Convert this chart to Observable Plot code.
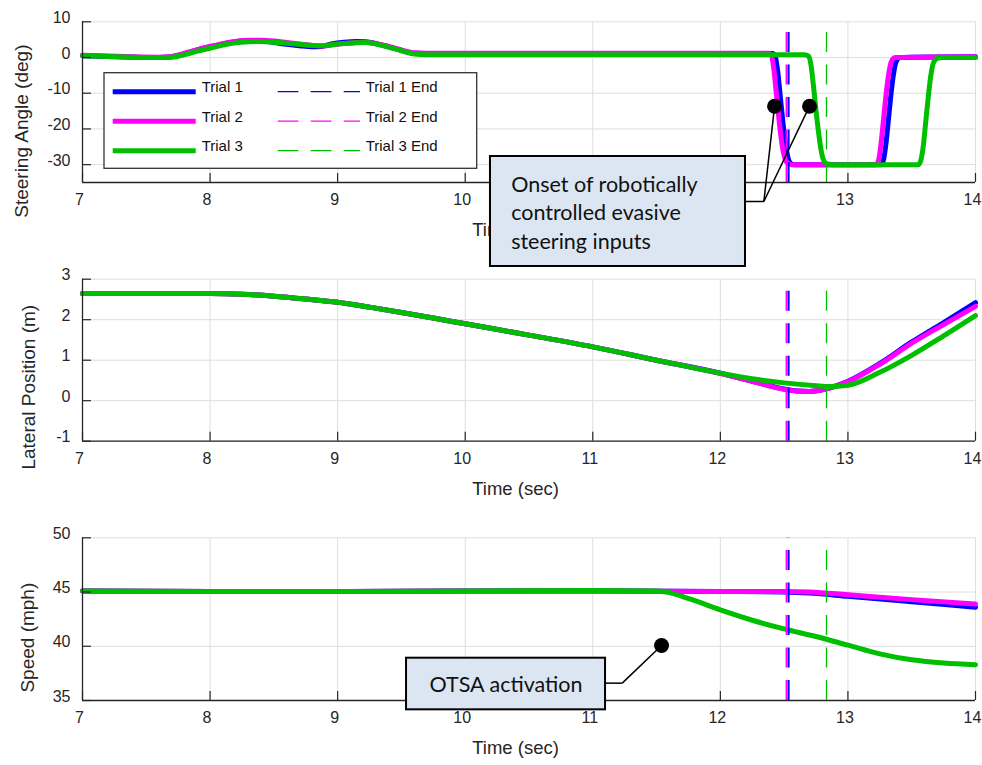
<!DOCTYPE html>
<html><head><meta charset="utf-8">
<script src="https://cdn.jsdelivr.net/npm/d3@7"></script>
<script src="https://cdn.jsdelivr.net/npm/@observablehq/plot@0.6"></script>
<style>
html,body{margin:0;padding:0;background:#fff;overflow:hidden}
#chart{position:relative;width:982px;height:765px}
#chart svg{position:absolute;left:0;top:0}
</style></head><body><div id="chart"></div>
<script>
// ---------- data ----------
const trials = ["Trial 1", "Trial 2", "Trial 3"];
const trialColors = ["#0000ff", "#ff00ff", "#00bf00"];
const endLabels = ["Trial 1 End", "Trial 2 End", "Trial 3 End"];
const endTimes = [12.535, 12.519, 12.832];
const timeTicks = [7, 8, 9, 10, 11, 12, 13, 14];
const steerTicks = [-30, -20, -10, 0, 10];
const latTicks = [-1, 0, 1, 2, 3];
const speedTicks = [35, 40, 45, 50];

// Steering angle (deg) vs time (sec)
const steerTrial1 = [[7,0.5],[7.2,0.3],[7.4,0.1],[7.6,0.0],[7.7,0.2],[7.8,1.1],[7.9,2.1],[8.0,3.0],[8.1,3.8],[8.2,4.4],[8.3,4.7],[8.4,4.6],[8.5,4.2],[8.6,3.7],[8.7,3.3],[8.8,3.0],[8.87,3.1],[8.95,3.8],[9.05,4.3],[9.15,4.5],[9.22,4.4],[9.3,3.9],[9.4,3.0],[9.5,2.0],[9.6,1.2],[9.7,1.1],[10,1.1],[11,1.1],[12,1.1],[12.41,1.1],[12.43,0.3],[12.45,-4],[12.47,-11],[12.49,-18],[12.51,-24],[12.53,-28],[12.55,-29.6],[12.58,-30],[13.26,-30],[13.28,-28.5],[13.30,-23.5],[13.32,-16.5],[13.34,-9.5],[13.36,-4],[13.38,-1],[13.41,0],[13.5,0.1],[14,0.2]];
const steerTrial2 = [[7,0.6],[7.2,0.4],[7.4,0.2],[7.6,0.1],[7.7,0.3],[7.8,1.2],[7.9,2.2],[8.0,3.1],[8.1,3.9],[8.2,4.5],[8.3,4.8],[8.4,4.8],[8.5,4.6],[8.6,4.2],[8.7,3.8],[8.8,3.4],[8.87,3.2],[8.95,3.5],[9.05,3.9],[9.15,4.2],[9.22,4.3],[9.3,3.9],[9.4,3.1],[9.5,2.1],[9.6,1.3],[9.7,1.2],[10,1.2],[11,1.2],[12,1.2],[12.38,1.2],[12.40,0.6],[12.42,-3.5],[12.44,-10.5],[12.46,-17.5],[12.48,-23.5],[12.50,-27.5],[12.52,-29.3],[12.56,-30],[13.22,-30],[13.24,-28.8],[13.26,-24],[13.28,-17],[13.30,-10],[13.32,-4.5],[13.34,-1.2],[13.37,0],[13.5,0.1],[14,0.2]];
const steerTrial3 = [[7,0.5],[7.2,0.3],[7.4,0.1],[7.6,0.0],[7.7,0.1],[7.8,0.8],[7.9,1.8],[8.0,2.6],[8.1,3.5],[8.2,4.1],[8.3,4.4],[8.4,4.5],[8.5,4.3],[8.6,4.0],[8.7,3.7],[8.8,3.4],[8.87,3.3],[8.95,3.6],[9.05,3.9],[9.15,4.15],[9.22,4.2],[9.3,3.8],[9.4,2.9],[9.5,1.9],[9.6,1.0],[9.7,0.8],[10,0.8],[11,0.75],[12,0.8],[12.66,0.8],[12.69,0.4],[12.71,-2],[12.73,-8],[12.75,-15],[12.77,-21],[12.79,-26],[12.81,-28.8],[12.84,-29.8],[12.9,-30],[13.55,-30],[13.57,-29],[13.59,-25],[13.61,-18],[13.63,-11],[13.65,-5],[13.67,-1.5],[13.7,-0.2],[13.75,0],[14,0]];

// Lateral position (m)
const latTrial1 = [[7,2.65],[7.5,2.65],[8,2.65],[8.25,2.63],[8.5,2.58],[8.75,2.51],[9,2.43],[9.25,2.31],[9.5,2.18],[9.75,2.04],[10,1.90],[10.5,1.62],[11,1.33],[11.5,1.0],[12,0.68],[12.25,0.48],[12.5,0.29],[12.6,0.24],[12.7,0.23],[12.8,0.27],[12.9,0.36],[13,0.48],[13.25,0.92],[13.5,1.45],[13.75,1.93],[14,2.42]];
const latTrial2 = [[7,2.65],[7.5,2.65],[8,2.65],[8.25,2.63],[8.5,2.58],[8.75,2.51],[9,2.43],[9.25,2.31],[9.5,2.18],[9.75,2.04],[10,1.90],[10.5,1.62],[11,1.33],[11.5,1.0],[12,0.67],[12.25,0.48],[12.5,0.28],[12.6,0.24],[12.7,0.23],[12.8,0.27],[12.9,0.35],[13,0.47],[13.25,0.90],[13.5,1.42],[13.75,1.88],[14,2.33]];
const latTrial3 = [[7,2.65],[7.5,2.65],[8,2.65],[8.25,2.63],[8.5,2.58],[8.75,2.51],[9,2.43],[9.25,2.31],[9.5,2.18],[9.75,2.04],[10,1.90],[10.5,1.62],[11,1.33],[11.5,1.0],[12,0.68],[12.25,0.54],[12.5,0.44],[12.75,0.37],[12.85,0.35],[13,0.38],[13.25,0.70],[13.5,1.12],[13.75,1.60],[14,2.10]];

// Speed (mph)
const speedTrial1 = [[7,45.1],[8,45.05],[9,45.05],[10,45.1],[11,45.1],[12,45.05],[12.5,45.0],[12.7,44.9],[13,44.6],[13.5,44.1],[14,43.6]];
const speedTrial2 = [[7,45.1],[8,45.05],[9,45.05],[10,45.1],[11,45.1],[12,45.05],[12.5,45.05],[12.7,45.0],[13,44.75],[13.5,44.3],[14,43.9]];
const speedTrial3 = [[7,45.1],[8,45.05],[9,45.05],[10,45.1],[11,45.15],[11.5,45.1],[11.6,44.95],[11.7,44.6],[11.8,44.2],[12,43.35],[12.25,42.4],[12.5,41.6],[12.75,40.9],[13,40.1],[13.25,39.3],[13.5,38.75],[13.75,38.45],[14,38.3]];

// Annotations (in data units of their panel)
const steerNote = {
  text: "Onset of robotically\ncontrolled evasive\nsteering inputs",
  x1: 10.198, x2: 12.197, y1: -27.72, y2: -58.52,
  textX: 10.36, textY: -43.0,
  elbowX: 12.341, elbowY: -40.32,
  targets: [[12.425, -13.63], [12.699, -13.63]]
};
const speedNote = {
  text: "OTSA activation",
  x1: 9.540, x2: 11.100, y1: 38.90, y2: 34.14,
  textX: 10.32, textY: 36.62,
  elbowX: 11.231, elbowY: 36.60,
  targets: [[11.539, 40.07]]
};

// ---------- drawing ----------
const GRID = "#dedede", AXIS = "#262626", TXT = "#262626";
const FONT = "'Liberation Sans', Arial, sans-serif";
const W = 982, H = 765, ML = 82, MR = 7;

function noteMarks(n, anchor) {
  return [
    Plot.link(n.targets, {x1: () => n.elbowX, y1: () => n.elbowY, x2: d => d[0], y2: d => d[1], stroke: "#000", strokeWidth: 1.5}),
    Plot.link([n], {x1: d => d.x2, y1: d => d.elbowY, x2: d => d.elbowX, y2: d => d.elbowY, stroke: "#000", strokeWidth: 1.5}),
    Plot.rect([n], {x1: "x1", x2: "x2", y1: "y1", y2: "y2", fill: "#dce6f2", stroke: "#000", strokeWidth: 2}),
    Plot.text([n], {x: "textX", y: "textY", text: "text", textAnchor: anchor, lineAnchor: "middle", lineHeight: 1.33,
      fontSize: 21.5, fontFamily: "Lato, 'Open Sans', sans-serif", fill: "#111"}),
    Plot.dot(n.targets, {x: d => d[0], y: d => d[1], r: 7.5, fill: "#000", stroke: "none"})
  ];
}

function panel({top, bottom, yDomain, yTicks, yLabel, series, labelDx, labelDy, extra = []}) {
  const fh = bottom - top, fw = W - ML - MR;
  return Plot.plot({
    width: W, height: H,
    marginLeft: ML, marginRight: MR, marginTop: top, marginBottom: H - bottom,
    x: {domain: [7, 14], axis: null},
    y: {domain: yDomain, axis: null},
    style: {background: "transparent", overflow: "visible", fontFamily: FONT},
    marks: [
      Plot.ruleX(timeTicks, {x: d => d, stroke: GRID, strokeWidth: 1}),
      Plot.ruleY(yTicks, {y: d => d, stroke: GRID, strokeWidth: 1}),
      ...series.map((s, i) => Plot.line(s, {x: d => d[0], y: d => d[1], stroke: trialColors[i], strokeWidth: 5, curve: "monotone-x"})),
      ...endTimes.map((t, i) => Plot.ruleX([t], {x: d => d, y1: () => yDomain[0], y2: () => yDomain[1],
        stroke: trialColors[i], strokeWidth: i < 2 ? 2 : 1.3, strokeDasharray: "20,12.5"})),
      Plot.ruleX([7], {x: d => d, stroke: AXIS, strokeWidth: 1.3}),
      Plot.ruleY([yDomain[0]], {y: d => d, stroke: AXIS, strokeWidth: 1.3}),
      Plot.ruleX(timeTicks, {x: d => d, stroke: AXIS, strokeWidth: 1.2, insetTop: fh - 9}),
      Plot.ruleY(yTicks, {y: d => d, stroke: AXIS, strokeWidth: 1.2, insetRight: fw - 9}),
      Plot.text(timeTicks, {x: d => d, text: d => String(d), frameAnchor: "bottom", lineAnchor: "middle", textAnchor: "middle",
        dy: 17.5, dx: -3, fontSize: 16, fill: TXT}),
      Plot.text(yTicks, {y: d => d, text: d => String(d), frameAnchor: "left", lineAnchor: "middle", textAnchor: "end",
        dx: -12, dy: -4, fontSize: 16, fill: TXT}),
      Plot.text(["Time (sec)"], {text: d => d, frameAnchor: "bottom", lineAnchor: "middle", textAnchor: "middle",
        dy: 48, dx: -13.5, fontSize: 18.5, fill: TXT}),
      Plot.text([yLabel], {text: d => d, frameAnchor: "left", rotate: -90, lineAnchor: "middle", textAnchor: "middle",
        dx: labelDx, dy: labelDy, fontSize: 19, fill: TXT}),
      ...extra
    ]
  });
}

const chart = document.getElementById("chart");
chart.appendChild(panel({top: 537.3, bottom: 700, yDomain: [35, 50], yTicks: speedTicks, yLabel: "Speed (mph)",
  series: [speedTrial1, speedTrial2, speedTrial3], labelDx: -54.5, labelDy: 18.5, extra: noteMarks(speedNote, "middle")}));
chart.appendChild(panel({top: 278.7, bottom: 440.7, yDomain: [-1, 3], yTicks: latTicks, yLabel: "Lateral Position (m)",
  series: [latTrial1, latTrial2, latTrial3], labelDx: -53.7, labelDy: 27}));
chart.appendChild(panel({top: 21.3, bottom: 182, yDomain: [-35, 10], yTicks: steerTicks, yLabel: "Steering Angle (deg)",
  series: [steerTrial1, steerTrial2, steerTrial3], labelDx: -60.3, labelDy: 29, extra: noteMarks(steerNote, "start")}));

// ---------- legend (top panel, upper-left) ----------
const leg = d3.select(chart).append("svg").attr("width", W).attr("height", H).style("pointer-events", "none")
  .attr("font-family", FONT).attr("font-size", 15);
leg.append("rect").attr("x", 104).attr("y", 72.7).attr("width", 372.7).attr("height", 95.6)
  .attr("fill", "#fff").attr("stroke", "#333").attr("stroke-width", 1.3);
trials.forEach((name, i) => {
  const y = 91.7 + i * 29.5;
  leg.append("line").attr("x1", 112.7).attr("x2", 195.7).attr("y1", y).attr("y2", y)
    .attr("stroke", trialColors[i]).attr("stroke-width", 5);
  leg.append("text").attr("x", 201.7).attr("y", y + 0.5).attr("fill", "#111").text(name);
  leg.append("line").attr("x1", 277.7).attr("x2", 360).attr("y1", y).attr("y2", y)
    .attr("stroke", trialColors[i]).attr("stroke-width", 1.2).attr("stroke-dasharray", "20.7,12.3");
  leg.append("text").attr("x", 365.7).attr("y", y + 0.5).attr("fill", "#111").text(endLabels[i]);
});
</script></body></html>
